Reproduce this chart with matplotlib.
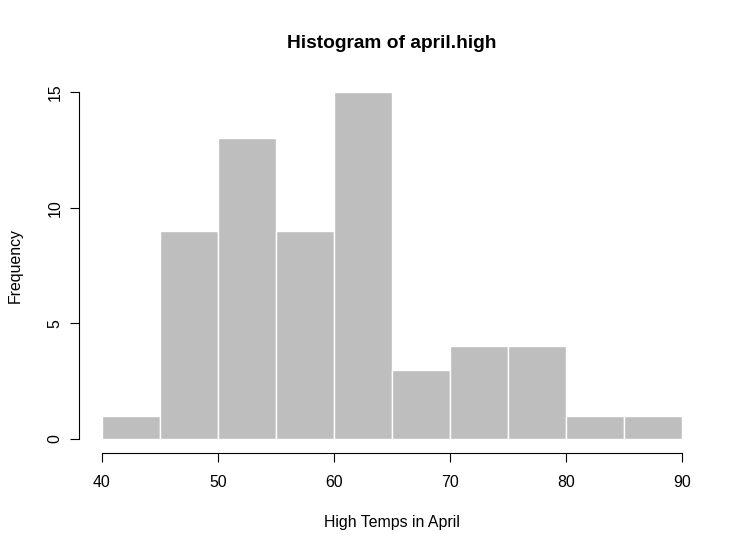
import numpy as np
import matplotlib
matplotlib.use('Agg')
import matplotlib.pyplot as plt

plt.rcParams['font.family'] = ['Liberation Sans', 'DejaVu Sans']

# ビンとカウント (april.high)
breaks = [40, 45, 50, 55, 60, 65, 70, 75, 80, 85, 90]
counts = [1, 9, 13, 9, 15, 3, 4, 4, 1, 1]
x_ticks = [40, 50, 60, 70, 80, 90]
y_ticks = [0, 5, 10, 15]

fig = plt.figure(figsize=(7.46, 5.51), dpi=100, facecolor='white')
ax = fig.add_axes([0.1056, 0.178, 0.8397, 0.6803])

lefts = np.array(breaks[:-1])
widths = np.diff(breaks)
ax.bar(lefts, counts, width=widths, align='edge',
       color='#BEBEBE', edgecolor='white', linewidth=1.0)

ax.set_xlim(38, 92)
ax.set_ylim(-0.6, 15.6)

for s in ('top', 'right'):
    ax.spines[s].set_visible(False)
ax.spines['left'].set_bounds(0, 15)
ax.spines['bottom'].set_bounds(40, 90)
for s in ('left', 'bottom'):
    ax.spines[s].set_linewidth(0.8)
    ax.spines[s].set_color('black')

ax.set_xticks(x_ticks)
ax.set_yticks(y_ticks)
ax.tick_params(direction='out', length=6.5, width=0.8, labelsize=11.4)
ax.tick_params(axis='x', pad=9.6)
ax.tick_params(axis='y', pad=5)
plt.setp(ax.get_yticklabels(), rotation=90, va='center')

ax.set_title('Histogram of april.high', fontsize=13.8, fontweight='bold', pad=21.7)
ax.set_xlabel('High Temps in April', fontsize=11.4, labelpad=17.5)
ax.set_ylabel('Frequency', fontsize=11.4, labelpad=18)

fig.savefig('out.png', dpi=100, facecolor='white')
